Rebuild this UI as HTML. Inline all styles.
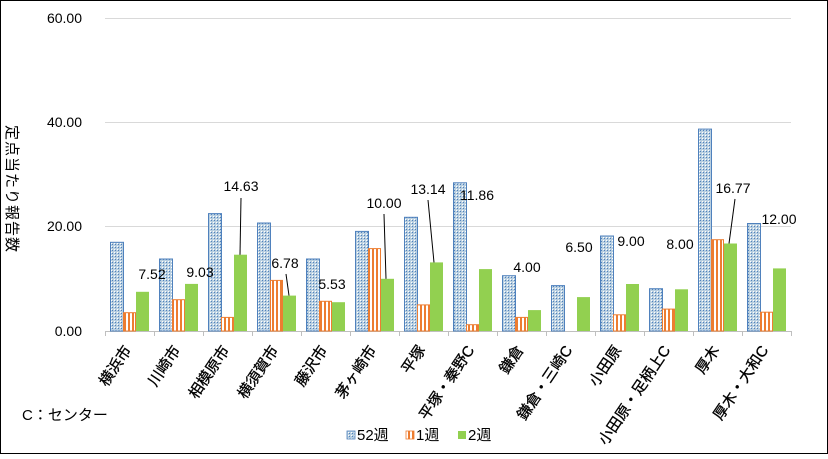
<!DOCTYPE html>
<html><head><meta charset="utf-8"><style>
body{margin:0;background:#fff}
svg text{font-family:"Liberation Sans","Noto Sans CJK JP",sans-serif}
</style></head><body>
<svg width="828" height="454" xmlns="http://www.w3.org/2000/svg">
<defs>
<pattern id="pb" width="3" height="3" patternUnits="userSpaceOnUse"><rect width="3" height="3" fill="#b9cfe0"/><rect width="1" height="1" fill="#ffffff"/><rect x="1" y="1" width="1" height="1" fill="#4f81bd"/></pattern>
<pattern id="po" width="4" height="4" patternUnits="userSpaceOnUse"><rect width="4" height="4" fill="#fff"/><rect width="2" height="4" fill="#ed7d31"/></pattern>
</defs>
<rect x="0.5" y="0.5" width="827" height="453" fill="#fff" stroke="#000"/>
<g stroke="#d9d9d9" stroke-width="1">
<line x1="105" y1="18.5" x2="791" y2="18.5"/>
<line x1="105" y1="122.5" x2="791" y2="122.5"/>
<line x1="105" y1="226.5" x2="791" y2="226.5"/>
</g>
<line x1="105" y1="331.5" x2="791" y2="331.5" stroke="#bfbfbf"/>
<g stroke="#bfbfbf">
<line x1="105.5" y1="331" x2="105.5" y2="336"/><line x1="154.5" y1="331" x2="154.5" y2="336"/><line x1="203.5" y1="331" x2="203.5" y2="336"/><line x1="252.5" y1="331" x2="252.5" y2="336"/><line x1="301.5" y1="331" x2="301.5" y2="336"/><line x1="350.5" y1="331" x2="350.5" y2="336"/><line x1="399.5" y1="331" x2="399.5" y2="336"/><line x1="448.5" y1="331" x2="448.5" y2="336"/><line x1="497.5" y1="331" x2="497.5" y2="336"/><line x1="546.5" y1="331" x2="546.5" y2="336"/><line x1="595.5" y1="331" x2="595.5" y2="336"/><line x1="644.5" y1="331" x2="644.5" y2="336"/><line x1="693.5" y1="331" x2="693.5" y2="336"/><line x1="742.5" y1="331" x2="742.5" y2="336"/><line x1="791.5" y1="331" x2="791.5" y2="336"/>
</g>
<g font-size="14" fill="#000" text-anchor="end">
<text x="82" y="23">60.00</text><text x="82" y="127">40.00</text><text x="82" y="231">20.00</text><text x="82" y="336">0.00</text>
</g>
<text font-size="15" transform="translate(7,125) rotate(90)" fill="#000" letter-spacing="1">定点当たり報告数</text>
<g fill="url(#pb)" stroke="#4f81bd">
<rect x="110.5" y="242.3" width="13" height="88.7"/>
<rect x="159.5" y="259" width="13" height="72"/>
<rect x="208.5" y="213.6" width="13" height="117.4"/>
<rect x="257.5" y="223" width="13" height="108"/>
<rect x="306.5" y="259" width="13" height="72"/>
<rect x="355.5" y="231.4" width="13" height="99.6"/>
<rect x="404.5" y="217.3" width="13" height="113.7"/>
<rect x="453.5" y="182.8" width="13" height="148.2"/>
<rect x="502.5" y="275.7" width="13" height="55.3"/>
<rect x="551.5" y="285.6" width="13" height="45.4"/>
<rect x="600.5" y="236" width="13" height="95"/>
<rect x="649.5" y="288.7" width="13" height="42.3"/>
<rect x="698.5" y="129.1" width="13" height="201.9"/>
<rect x="747.5" y="223.5" width="13" height="107.5"/>
</g>
<g fill="url(#po)" stroke="#ed7d31">
<rect x="123.5" y="312.7" width="12" height="18.3"/>
<rect x="172.5" y="299.7" width="12" height="31.3"/>
<rect x="221.5" y="317.4" width="12" height="13.6"/>
<rect x="270.5" y="280.4" width="12" height="50.6"/>
<rect x="319.5" y="301.3" width="12" height="29.7"/>
<rect x="368.5" y="248.6" width="12" height="82.4"/>
<rect x="417.5" y="304.9" width="12" height="26.1"/>
<rect x="466.5" y="324.7" width="12" height="6.3"/>
<rect x="515.5" y="317.4" width="12" height="13.6"/>
<rect x="613.5" y="314.8" width="12" height="16.2"/>
<rect x="662.5" y="309.1" width="12" height="21.9"/>
<rect x="711.5" y="239.7" width="12" height="91.3"/>
<rect x="760.5" y="312.2" width="12" height="18.8"/>
</g>
<g fill="#92d050">
<rect x="136" y="291.8" width="13" height="39.2"/>
<rect x="185" y="283.9" width="13" height="47.1"/>
<rect x="234" y="254.7" width="13" height="76.3"/>
<rect x="283" y="295.6" width="13" height="35.4"/>
<rect x="332" y="302.2" width="13" height="28.8"/>
<rect x="381" y="278.8" width="13" height="52.2"/>
<rect x="430" y="262.4" width="13" height="68.6"/>
<rect x="479" y="269.1" width="13" height="61.9"/>
<rect x="528" y="310.1" width="13" height="20.9"/>
<rect x="577" y="297.1" width="13" height="33.9"/>
<rect x="626" y="284" width="13" height="47"/>
<rect x="675" y="289.3" width="13" height="41.7"/>
<rect x="724" y="243.5" width="13" height="87.5"/>
<rect x="773" y="268.4" width="13" height="62.6"/>
</g>
<g stroke="#000">
<line x1="241" y1="198" x2="240" y2="254.7"/>
<line x1="286" y1="274" x2="289" y2="295.6"/>
<line x1="384" y1="214" x2="386" y2="278.8"/>
<line x1="428" y1="200" x2="434" y2="262.4"/>
<line x1="735" y1="199" x2="729" y2="243.5"/>
</g>
<g font-size="14" font-family="Liberation Mono" text-anchor="middle">
<text x="152" y="279">7.52</text><text x="200" y="277">9.03</text><text x="241" y="191">14.63</text><text x="285" y="268">6.78</text><text x="332" y="289">5.53</text><text x="384" y="208">10.00</text><text x="428" y="194">13.14</text><text x="477" y="200">11.86</text><text x="527" y="272">4.00</text><text x="579" y="252">6.50</text><text x="631" y="246">9.00</text><text x="680" y="249">8.00</text><text x="733" y="193">16.77</text><text x="779" y="224">12.00</text>
</g>
<g font-size="15" text-anchor="end" stroke="#000" stroke-width="0.3">
<text transform="translate(132,350) rotate(-56)">横浜市</text>
<text transform="translate(181,350) rotate(-56)">川崎市</text>
<text transform="translate(230,350) rotate(-56)">相模原市</text>
<text transform="translate(279,350) rotate(-56)">横須賀市</text>
<text transform="translate(328,350) rotate(-56)">藤沢市</text>
<text transform="translate(377,350) rotate(-56)">茅ヶ崎市</text>
<text transform="translate(426,350) rotate(-56)">平塚</text>
<text transform="translate(475,350) rotate(-56)">平塚・秦野C</text>
<text transform="translate(524,350) rotate(-56)">鎌倉</text>
<text transform="translate(573,350) rotate(-56)">鎌倉・三崎C</text>
<text transform="translate(622,350) rotate(-56)">小田原</text>
<text transform="translate(671,350) rotate(-56)">小田原・足柄上C</text>
<text transform="translate(720,350) rotate(-56)">厚木</text>
<text transform="translate(769,350) rotate(-56)">厚木・大和C</text>
</g>
<text x="22" y="420" font-size="15">C：センター</text>
<g font-size="15">
<rect x="347" y="431" width="8" height="8" fill="url(#pb)" stroke="#4f81bd" stroke-width="0.8"/><text x="357" y="440">52週</text>
<rect x="406" y="431" width="8" height="8" fill="url(#po)" stroke="#ed7d31" stroke-width="0.8"/><text x="416" y="440">1週</text>
<rect x="458" y="431" width="8" height="8" fill="#92d050"/><text x="468" y="440">2週</text>
</g>
</svg>
</body></html>
